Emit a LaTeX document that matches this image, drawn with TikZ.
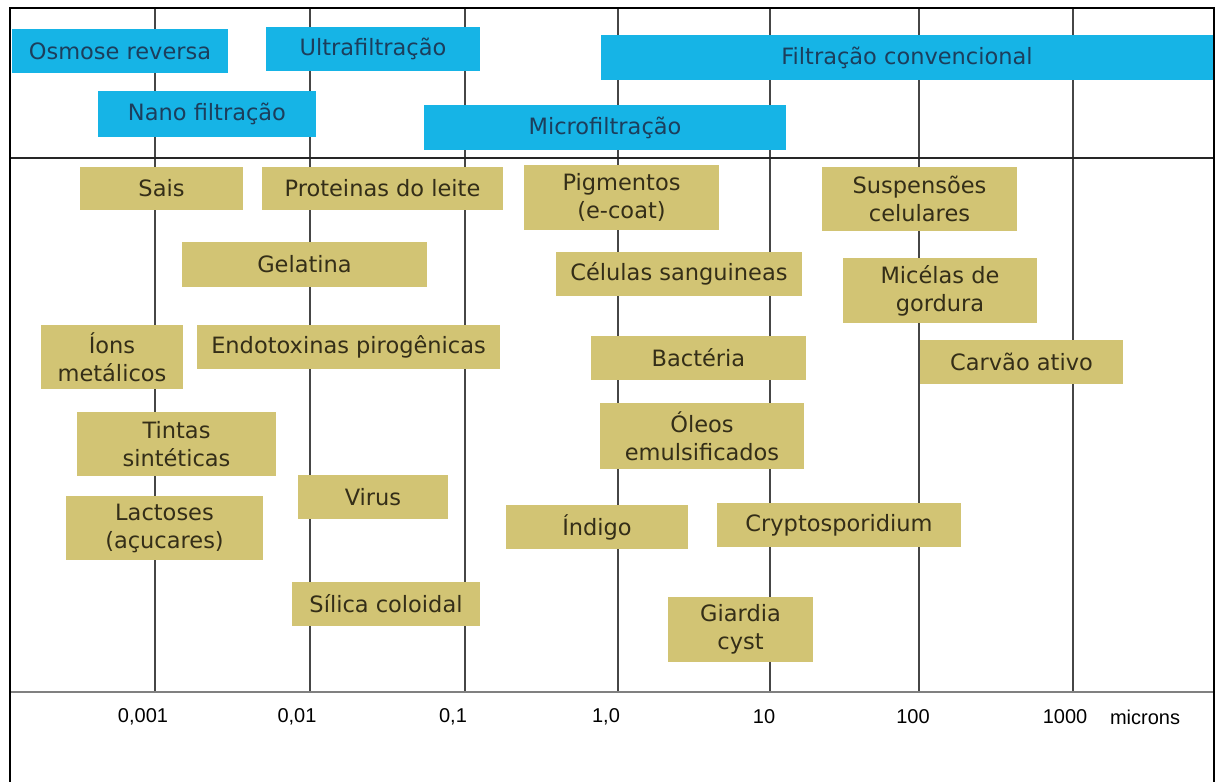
\documentclass[tikz,border=0pt]{standalone}
\usepackage{fontspec}
\setmainfont{DejaVu Sans}
\newfontfamily\axisfont{Liberation Sans}
\definecolor{filtblue}{RGB}{22,180,230}
\definecolor{filttext}{RGB}{28,62,92}
\definecolor{parttan}{RGB}{210,196,116}
\definecolor{parttext}{RGB}{52,46,24}
\definecolor{gridgray}{RGB}{70,70,70}
\begin{document}
\begin{tikzpicture}[x=1pt,y=-1pt,
  blubox/.style={fill=filtblue,text=filttext,inner sep=0pt,align=center,
    font=\fontsize{22.5}{28}\selectfont},
  tanbox/.style={fill=parttan,text=parttext,inner sep=0pt,align=center,
    font=\fontsize{22.5}{28}\selectfont},
  scalelbl/.style={font=\axisfont\fontsize{20}{24}\selectfont}]
  \useasboundingbox (0,0) rectangle (1219,782);
  \coordinate (TL) at (10,8);
  \coordinate (TR) at (1214,8);
  \coordinate (BL) at (10,782);
  \coordinate (BR) at (1214,782);
  % grid
  \draw[gridgray,line width=1.6pt] (155,8) -- (155,692);
  \draw[gridgray,line width=1.6pt] (310,8) -- (310,692);
  \draw[gridgray,line width=1.6pt] (465,8) -- (465,692);
  \draw[gridgray,line width=1.6pt] (618,8) -- (618,692);
  \draw[gridgray,line width=1.6pt] (770,8) -- (770,692);
  \draw[gridgray,line width=1.6pt] (919,8) -- (919,692);
  \draw[gridgray,line width=1.6pt] (1073,8) -- (1073,692);
  \draw[black!85,line width=2pt] (10,158) -- (1214,158);
  \draw[gray,line width=2pt] (10,692) -- (1214,692);
  \draw[black,line width=2.6pt] (BL) -- (TL) -- (TR) -- (BR);
  % processes
  \node[blubox,minimum width=216,minimum height=44] (osmose) at (120,51) {Osmose reversa};
  \node[blubox,minimum width=214,minimum height=44] (ultra) at (373,49) {Ultrafiltração};
  \node[blubox,minimum width=218,minimum height=46] (nano) at (207,114) {Nano filtração};
  \node[blubox,minimum width=362,minimum height=45] (micro) at (605,127.5) {Microfiltração};
  \node[blubox,minimum width=612,minimum height=45] (conv) at (907,57.5) {Filtração convencional};
  % particles
  \node[tanbox,minimum width=163,minimum height=43] (sais) at (161.5,188.5) {Sais};
  \node[tanbox,minimum width=241,minimum height=43] (proteinas) at (382.5,188.5) {Proteinas do leite};
  \node[tanbox,minimum width=245,minimum height=45] (gelatina) at (304.5,264.5) {Gelatina};
  \node[tanbox,minimum width=142,minimum height=64] (ions) at (112,357) {Íons\\metálicos};
  \node[tanbox,minimum width=303,minimum height=44] (endotox) at (348.5,347) {Endotoxinas pirogênicas};
  \node[tanbox,minimum width=199,minimum height=64] (tintas) at (176.5,444) {Tintas\\sintéticas};
  \node[tanbox,minimum width=197,minimum height=64] (lactoses) at (164.5,528) {Lactoses\\(açucares)};
  \node[tanbox,minimum width=150,minimum height=44] (virus) at (373,497) {Virus};
  \node[tanbox,minimum width=188,minimum height=44] (silica) at (386,604) {Sílica coloidal};
  \node[tanbox,minimum width=195,minimum height=65] (pigmentos) at (621.5,197.5) {Pigmentos\\(e-coat)};
  \node[tanbox,minimum width=246,minimum height=44] (celulas) at (679,274) {Células sanguineas};
  \node[tanbox,minimum width=215,minimum height=44] (bacteria) at (698.5,358) {Bactéria};
  \node[tanbox,minimum width=204,minimum height=66] (oleos) at (702,436) {Óleos\\emulsificados};
  \node[tanbox,minimum width=182,minimum height=44] (indigo) at (597,527) {Índigo};
  \node[tanbox,minimum width=244,minimum height=44] (crypto) at (839,525) {Cryptosporidium};
  \node[tanbox,minimum width=145,minimum height=65] (giardia) at (740.5,629.5) {Giardia\\cyst};
  \node[tanbox,minimum width=195,minimum height=64] (suspensoes) at (919.5,199) {Suspensões\\celulares};
  \node[tanbox,minimum width=194,minimum height=65] (micelas) at (940,290.5) {Micélas de\\gordura};
  \node[tanbox,minimum width=203,minimum height=44] (carvao) at (1021.5,362) {Carvão ativo};
  % scale
  \node[scalelbl] (s3) at (143,717) {0,001};
  \node[scalelbl] (s2) at (297,717) {0,01};
  \node[scalelbl] (s1) at (453,717) {0,1};
  \node[scalelbl] (s0) at (606,717) {1,0};
  \node[scalelbl] (p1) at (764,717) {10};
  \node[scalelbl] (p2) at (913,717) {100};
  \node[scalelbl] (p3) at (1065,717) {1000};
  \node[scalelbl] (unit) at (1145,717) {microns};
\end{tikzpicture}
\end{document}
